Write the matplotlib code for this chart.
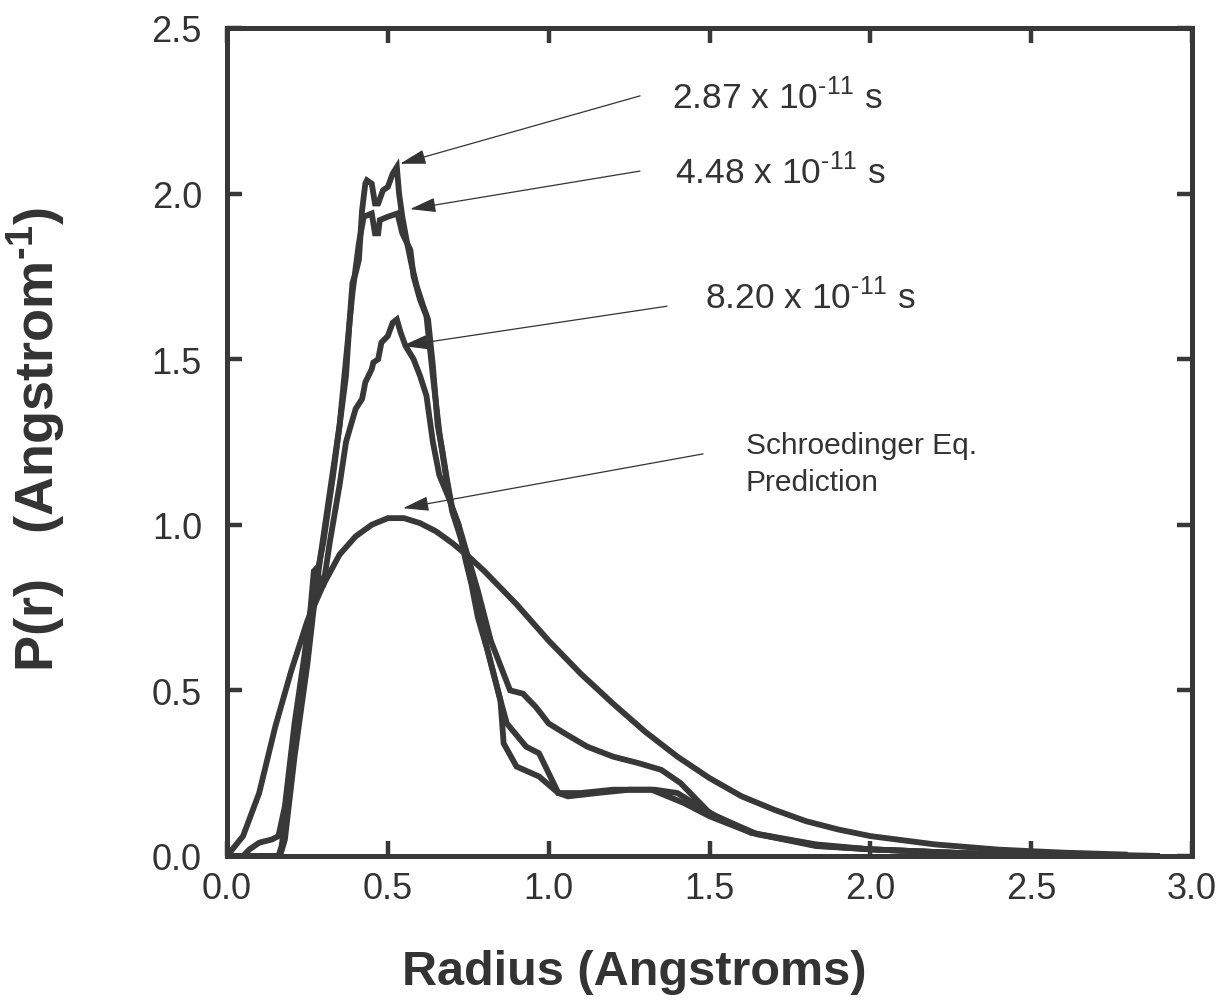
import matplotlib
matplotlib.use("Agg")
import matplotlib.pyplot as plt

plt.rcParams['font.family'] = ['Liberation Sans', 'DejaVu Sans']

# ---- data ----
r_schro = [0.0, 0.05, 0.1, 0.15, 0.2, 0.25, 0.3, 0.35, 0.4, 0.45, 0.5, 0.55, 0.6, 0.65, 0.7,
           0.75, 0.8, 0.85, 0.9, 0.95, 1.0, 1.1, 1.2, 1.3, 1.4, 1.5, 1.6, 1.7, 1.8, 1.9,
           2.0, 2.2, 2.4, 2.6, 2.8]
p_schro = [0.0, 0.06, 0.19, 0.39, 0.56, 0.71, 0.82, 0.91, 0.965, 1.00, 1.02, 1.02, 1.005, 0.98,
           0.945, 0.905, 0.86, 0.81, 0.76, 0.705, 0.65, 0.55, 0.46, 0.375, 0.30, 0.235, 0.18,
           0.14, 0.105, 0.08, 0.06, 0.035, 0.019, 0.010, 0.004]

r_287 = [0.0, 0.16, 0.17, 0.20, 0.24, 0.27, 0.28, 0.30, 0.33, 0.35, 0.37, 0.38, 0.39, 0.40, 0.41,
         0.42, 0.43, 0.435, 0.45, 0.46, 0.47, 0.485, 0.50, 0.515, 0.528, 0.535, 0.545, 0.56, 0.575,
         0.59, 0.61, 0.625, 0.64, 0.655, 0.67, 0.685, 0.70, 0.72, 0.74, 0.76, 0.78, 0.81, 0.85,
         0.86, 0.90, 0.97, 1.03, 1.06, 1.15, 1.25, 1.32, 1.42, 1.50, 1.63, 1.83, 2.0, 2.3, 2.6, 2.9]
p_287 = [0.0, 0.0, 0.03, 0.25, 0.55, 0.78, 0.85, 0.95, 1.15, 1.30, 1.45, 1.60, 1.73, 1.76, 1.80,
         1.95, 2.03, 2.04, 2.03, 1.97, 1.97, 2.01, 2.02, 2.06, 2.08, 2.00, 1.93, 1.85, 1.78,
         1.72, 1.66, 1.62, 1.48, 1.30, 1.22, 1.13, 1.05, 1.00, 0.90, 0.82, 0.72, 0.62, 0.47,
         0.34, 0.27, 0.24, 0.19, 0.18, 0.19, 0.20, 0.20, 0.16, 0.12, 0.07, 0.03, 0.02, 0.008, 0.003, 0.0]

r_448 = [0.0, 0.165, 0.18, 0.21, 0.25, 0.27, 0.29, 0.32, 0.35, 0.37, 0.39, 0.41, 0.425, 0.45,
         0.46, 0.47, 0.475, 0.50, 0.53, 0.545, 0.57, 0.58, 0.60, 0.62, 0.64, 0.66, 0.68, 0.70,
         0.72, 0.745, 0.77, 0.80, 0.85, 0.87, 0.93, 0.97, 1.03, 1.10, 1.20, 1.33, 1.40, 1.45,
         1.52, 1.65, 1.85, 2.0, 2.3, 2.6, 2.9]
p_448 = [0.0, 0.0, 0.05, 0.30, 0.58, 0.75, 0.90, 1.10, 1.30, 1.50, 1.70, 1.85, 1.93, 1.94,
         1.88, 1.88, 1.92, 1.93, 1.94, 1.88, 1.83, 1.75, 1.68, 1.63, 1.45, 1.28, 1.15, 1.04,
         0.98, 0.90, 0.80, 0.66, 0.47, 0.40, 0.33, 0.31, 0.19, 0.19, 0.20, 0.20, 0.19, 0.16,
         0.12, 0.065, 0.03, 0.02, 0.008, 0.003, 0.0]

r_820 = [0.0, 0.05, 0.07, 0.10, 0.14, 0.16, 0.18, 0.21, 0.24, 0.26, 0.27, 0.28, 0.29, 0.30,
         0.32, 0.35, 0.37, 0.40, 0.42, 0.43, 0.45, 0.455, 0.47, 0.48, 0.50, 0.515, 0.528, 0.54,
         0.555, 0.58, 0.60, 0.62, 0.64, 0.66, 0.69, 0.72, 0.75, 0.78, 0.82, 0.86, 0.88, 0.92,
         0.96, 1.0, 1.05, 1.12, 1.20, 1.28, 1.35, 1.41, 1.47, 1.50, 1.63, 1.83, 2.0, 2.3, 2.6, 2.9]
p_820 = [0.0, 0.0, 0.02, 0.04, 0.05, 0.06, 0.15, 0.40, 0.60, 0.75, 0.86, 0.87, 0.82, 0.82,
         0.95, 1.12, 1.25, 1.35, 1.38, 1.43, 1.47, 1.49, 1.50, 1.55, 1.57, 1.61, 1.62, 1.58,
         1.54, 1.50, 1.45, 1.39, 1.25, 1.15, 1.08, 1.00, 0.90, 0.80, 0.65, 0.55, 0.50, 0.49,
         0.45, 0.40, 0.37, 0.33, 0.30, 0.28, 0.26, 0.22, 0.16, 0.13, 0.07, 0.035, 0.02, 0.008, 0.003, 0.0]

labels = ["2.87 x 10$^{\\mathregular{\u201011}}$ s", "4.48 x 10$^{\\mathregular{\u201011}}$ s",
          "8.20 x 10$^{\\mathregular{\u201011}}$ s", "Schroedinger Eq.\nPrediction"]
label_sizes = [25.5, 25.5, 25.5, 21.5]
label_xy = [(1.383, 2.295), (1.393, 2.068), (1.486, 1.69), (1.613, 1.184)]
arrow_tail = [(1.284, 2.295), (1.284, 2.068), (1.368, 1.66), (1.48, 1.214)]
arrow_tip = [(0.538, 2.09), (0.569, 1.953), (0.544, 1.54), (0.547, 1.05)]

xticks = [0.0, 0.5, 1.0, 1.5, 2.0, 2.5, 3.0]
yticks = [0.0, 0.5, 1.0, 1.5, 2.0, 2.5]

# ---- drawing ----
col = '#383838'
tcol = '#333333'
fig = plt.figure(figsize=(12.21, 10.03), dpi=100)
ax = fig.add_axes([0.1859, 0.1456, 0.7904, 0.8255])

for r, p in [(r_schro, p_schro), (r_287, p_287), (r_448, p_448), (r_820, p_820)]:
    ax.plot(r, p, color=col, lw=4.2, solid_joinstyle='miter', solid_capstyle='butt')

for txt, fs, (tx, ty), tail, tip in zip(labels, label_sizes, label_xy, arrow_tail, arrow_tip):
    ax.text(tx, ty, txt, fontsize=fs, color=tcol, ha='left', va='center',
            linespacing=1.4)
    ax.annotate('', xy=tip, xytext=tail,
                arrowprops=dict(arrowstyle='-|>,head_length=1.6,head_width=0.45',
                                color=tcol, lw=0.9, shrinkA=0, shrinkB=0))

ax.set_xlim(0, 3.0)
ax.set_ylim(0, 2.5)
ax.set_xticks(xticks)
ax.set_yticks(yticks)
ax.set_xticklabels([f"{v:.1f}" for v in xticks])
ax.set_yticklabels([f"{v:.1f}" for v in yticks])
ax.tick_params(direction='in', length=11, width=3.2, color=col, labelsize=26,
               labelcolor=tcol, top=True, right=True)
ax.tick_params(axis='x', pad=11)
ax.tick_params(axis='y', pad=18)
for s in ax.spines.values():
    s.set_linewidth(3.6)
    s.set_color(col)

ax.set_xlabel("Radius (Angstroms)", fontsize=35, fontweight='bold', color=tcol)
ax.set_ylabel("P(r)   (Angstrom$^{\\mathregular{\u20101}}$)", fontsize=39, fontweight='bold',
              color=tcol)
ax.xaxis.set_label_coords(0.422, -0.112)
ax.yaxis.set_label_coords(-0.165, 0.504)

fig.savefig("out.png", dpi=100)
